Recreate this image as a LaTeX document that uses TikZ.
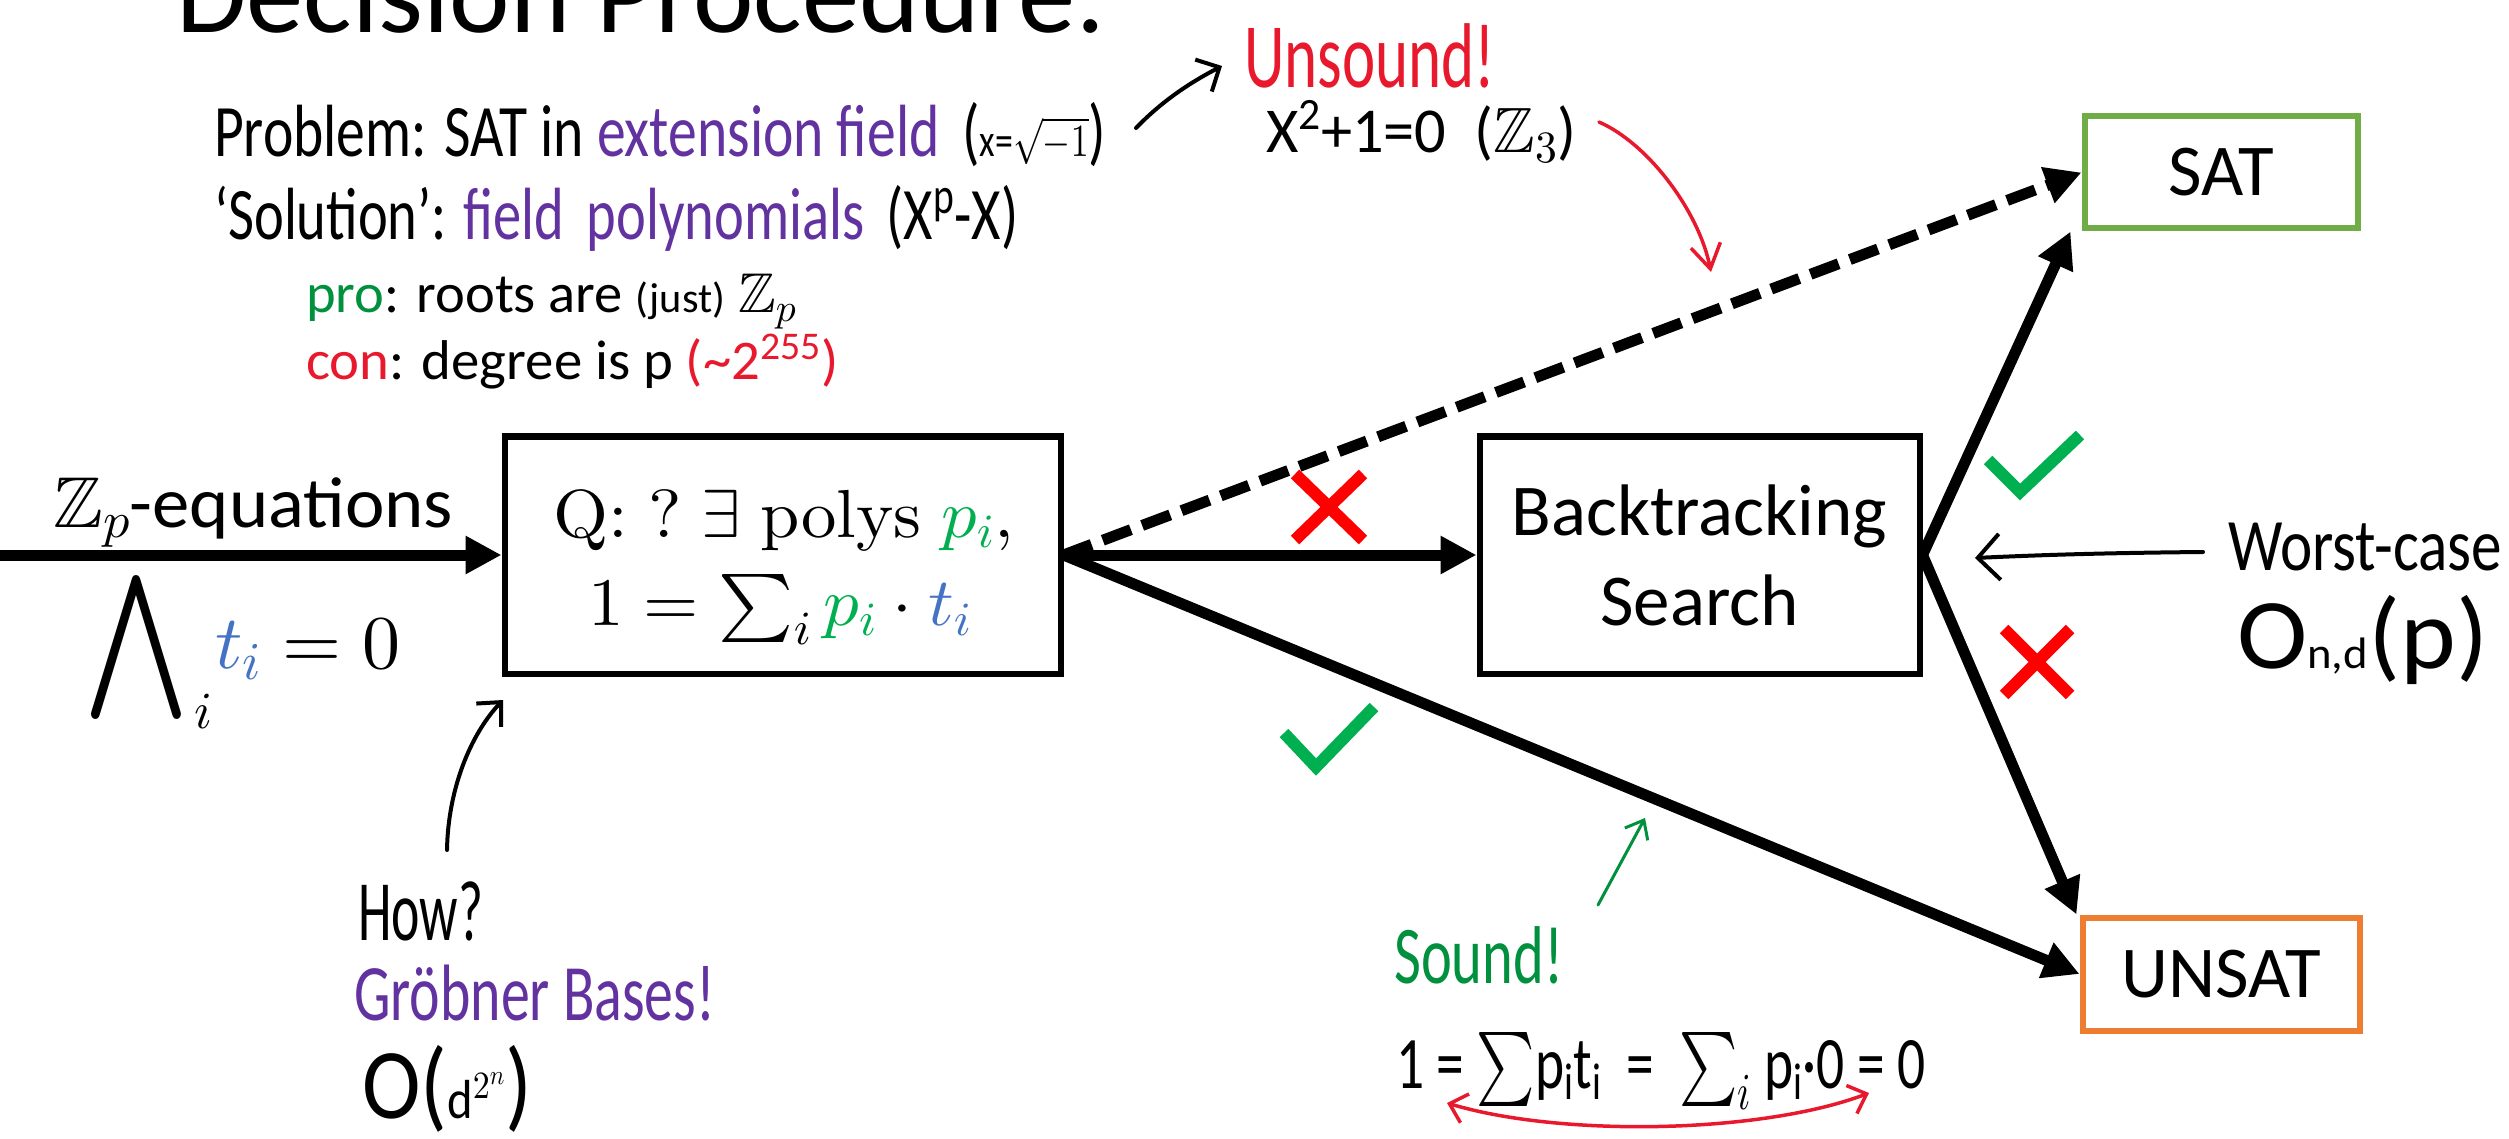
\documentclass[tikz,border=0pt]{standalone}
\usepackage{amsmath,amssymb}
\DeclareFontFamily{U}{msb}{}
\DeclareFontShape{U}{msb}{m}{n}{<-6>msbm5<6-8>msbm7<8->msbm10}{}
\DeclareFontShape{OML}{cmm}{m}{it}{<-6>cmmi5<6-8>cmmi7<8->cmmi10}{}
\DeclareFontShape{OMS}{cmsy}{m}{n}{<-6>cmsy5<6-8>cmsy7<8->cmsy10}{}
\DeclareFontShape{OMX}{cmex}{m}{n}{<->cmex10}{}
\DeclareFontShape{OT1}{cmr}{m}{n}{<-6>cmr5<6-8>cmr7<8->cmr10}{}
\usepackage[no-math]{fontspec}
\setmainfont{Carlito}
\newfontfamily\hwfont{Carlito}
\usepackage{graphicx}
\usetikzlibrary{arrows.meta}
\definecolor{pgreen}{HTML}{00B050}
\definecolor{tblue}{HTML}{4472C4}
\definecolor{satgreen}{HTML}{70AD47}
\definecolor{unsatorange}{HTML}{ED7D31}
\definecolor{hpurple}{HTML}{6233A0}
\definecolor{hgreen}{HTML}{00903E}
\definecolor{hred}{HTML}{E8192C}
\definecolor{xred}{HTML}{FF0000}
\definecolor{chkgreen}{HTML}{00B050}
\newcommand{\fitw}[2]{\resizebox{#1}{\height}{#2}}
\newcommand{\fs}[1]{\fontsize{#1}{#1}\selectfont}
\begin{document}
\begin{tikzpicture}[x=1pt,y=-1pt,
  box/.style={draw, line width=6pt, inner sep=0pt},
  thk/.style={line width=11pt, -{Triangle[length=36pt,width=36pt]}},
  thinarrow/.style={line width=4pt, line cap=round, line join=round},
  hw/.style={anchor=base west, inner sep=0pt, font=\hwfont},
  txt/.style={inner sep=0pt},
  chk/.style={line width=12pt, chkgreen, line join=miter},
  crs/.style={line width=12pt, xred}]
\useasboundingbox (0,0) rectangle (2509,1139);
\clip (0,0) rectangle (2509,1139);

% title
\node[txt, anchor=base west] (title) at (176,33) {\fs{114}\fitw{930pt}{Decision Procedure:}};

% boxes
\node[box, minimum width=556pt, minimum height=237pt] (Q) at (782.5,555) {};
\node[box, minimum width=440pt, minimum height=237pt, align=center,
      font=\fontsize{73}{90}\selectfont] (BT) at (1699.5,555) {Backtracking\\Search};
\node[box, draw=satgreen, minimum width=273pt, minimum height=112pt,
      font=\fs{73}] (SAT) at (2221,172.5) {SAT};
\node[box, draw=unsatorange, minimum width=277pt, minimum height=113pt,
      font=\fs{73}] (UNSAT) at (2221,974) {UNSAT};

% Q box text
\node[txt, anchor=base] (q1) at (784,537) {\fs{68}\fitw{460pt}{$\mathrm{Q}{:}\;?\;\exists\;\mathrm{polys}\;\textcolor{pgreen}{p_i},$}};
\node[txt, anchor=base] (q2) at (780,625) {\fs{68}\fitw{383pt}{$1 = \sum_i \textcolor{pgreen}{p_i}\cdot\textcolor{tblue}{t_i}$}};

% input
\coordinate (src) at (0,555);
\node[txt, anchor=base west] (zpeq) at (53,527) {\fs{72}\fitw{400pt}{$\mathbb{Z}_p$-equations}};
\node[txt, anchor=south west] (wedge) at (84,720) {\resizebox*{104pt}{144pt}{$\bigwedge$}};
\node[txt, anchor=base west] (wsub) at (194,728) {\fs{52}$i$};
\node[txt, anchor=base west] (teq) at (215,668) {\fs{76}$\textcolor{tblue}{t_i} = 0$};

% main arrows
\draw[thk] (src) -- (Q.west);
\draw[thk] (Q.east) -- (BT.west);
\draw[thk, dash pattern=on 30pt off 12pt] (Q.east) -- (SAT.west);
\draw[thk] (Q.east) -- (UNSAT.west);
\draw[thk] (BT.east) -- ([xshift=-11pt]SAT.south west);
\draw[thk] (BT.east) -- ([xshift=-3pt]UNSAT.north west);

% checks and crosses
\draw[crs] (1295,474) -- (1363,540) (1363,474) -- (1295,540);
\draw[crs] (2004,629) -- (2070,695) (2070,629) -- (2004,695);
\draw[chk] (1988,460) -- (2020,492) -- (2080,435);
\draw[chk] (1284,733) -- (1316,767) -- (1374,707);

% handwritten notes
\node[hw] (prob) at (214,157) {\fs{74}\fitw{892pt}{Problem: SAT in \textcolor{hpurple}{extension field} \,({\fs{46}x=$\sqrt{-1}$})}};
\node[hw] (sol) at (214,240) {\fs{74}\fitw{804pt}{‘Solution’: \textcolor{hpurple}{field\, polynomials} \,(X\textsuperscript{p}-X)}};
\node[hw] (pro) at (306,313) {\fs{56}\fitw{490pt}{\textcolor{hgreen}{pro}: roots are {\fs{42}(just)} $\mathbb{Z}_p$}};
\node[hw] (con) at (306,380) {\fs{56}\fitw{532pt}{\textcolor{hred}{con}: degree is p \textcolor{hred}{(\textasciitilde2\textsuperscript{255})}}};
\node[hw, text=hred] (unsound) at (1244,88) {\fs{92}\fitw{251pt}{Unsound!}};
\node[hw] (cex) at (1266,153) {\fs{64}\fitw{310pt}{X\textsuperscript{2}+1=0\ \ ($\mathbb{Z}_3$)}};
\node[hw] (how) at (358,940) {\fs{86}\fitw{125pt}{How?}};
\node[hw, text=hpurple] (grob) at (354,1020) {\fs{80}\fitw{361pt}{Gröbner Bases!}};
\node[hw] (gcost) at (362,1118) {\fs{100}\fitw{170pt}{O({\fs{55}d$^{2^{n}}$})}};
\node[hw] (worst) at (2228,570) {\fs{74}\fitw{274pt}{Worst-case}};
\node[hw] (wcost) at (2237,668) {\fs{100}\fitw{251pt}{O{\fs{44}n,d}(p)}};
\node[hw, text=hgreen] (sound) at (1394,983) {\fs{82}\fitw{169pt}{Sound!}};
\node[hw] (proof) at (1396,1088) {\fs{74}\fitw{529pt}{1 = $\sum$p\textsubscript{i}t\textsubscript{i} \ = \ $\sum_i$ p\textsubscript{i}·0 = 0}};

% annotation arrows
\coordinate (a1s) at (1136,128);
\coordinate (a1e) at (1222,66);
\draw[thinarrow, -{Straight Barb[length=18pt,width=36pt]}] (a1s) .. controls (1165,98) and (1195,80) .. (a1e);

\coordinate (a2s) at (1599,122);
\coordinate (a2e) at (1711,272);
\draw[thinarrow, hred, line width=3.5pt, -{Straight Barb[length=24pt,width=30pt]}] (a2s) .. controls (1649,144) and (1699,212) .. (a2e);

\coordinate (a3s) at (447,850);
\coordinate (a3e) at (503,700);
\draw[thinarrow, -{Straight Barb[length=18pt,width=34pt]}] (a3s) .. controls (448,790) and (470,735) .. (a3e);

\coordinate (a4s) at (2203,552);
\coordinate (a4e) at (1975,558);
\draw[thinarrow, -{Straight Barb[length=22pt,width=46pt]}] (a4s) .. controls (2100,553) and (2040,555) .. (a4e);

\coordinate (a5s) at (1598,905);
\coordinate (a5e) at (1645,818);
\draw[thinarrow, hgreen, line width=3pt, -{Straight Barb[length=16pt,width=26pt]}] (a5s) -- (a5e);

\coordinate (a6s) at (1447,1103);
\coordinate (a6e) at (1869,1093);
\draw[thinarrow, hred, line width=3.5pt, {Straight Barb[length=16pt,width=30pt]}-{Straight Barb[length=16pt,width=30pt]}] (a6s) .. controls (1560,1137) and (1760,1134) .. (a6e);
\end{tikzpicture}
\end{document}
